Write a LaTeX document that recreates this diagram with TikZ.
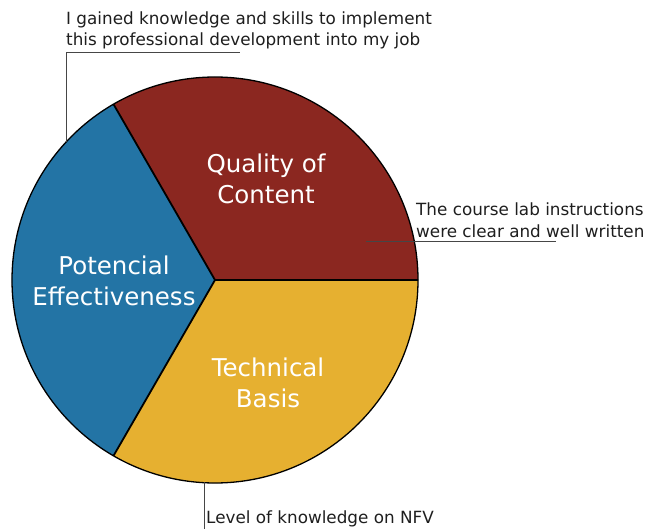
\documentclass[tikz,border=0pt]{standalone}
\usepackage{fontspec}
\setmainfont{DejaVu Sans}
\definecolor{cred}{RGB}{139,39,32}
\definecolor{cblue}{RGB}{35,116,165}
\definecolor{cyellow}{RGB}{230,176,48}
\definecolor{ctext}{RGB}{30,30,30}
\definecolor{cline}{RGB}{70,70,70}
\begin{document}
\begin{tikzpicture}[x=1pt,y=-1pt,
  slicelabel/.style={text=white,font=\fontsize{24.5}{31}\selectfont,align=center,inner sep=0pt},
  calltext/.style={text=ctext,font=\fontsize{16.8}{21}\selectfont,align=left,inner sep=0pt,anchor=base west},
  callline/.style={draw=cline,line width=0.9pt},
  sliceedge/.style={draw=black,line width=1.8pt,line join=miter}]
\useasboundingbox (0,0) rectangle (658,529);
\coordinate (C) at (215,280);
\begin{scope}[shift={(215,280)},yscale=-1]
  \fill[cred] (0,0) -- (0:203) arc (0:120:203) -- cycle;
  \fill[cblue] (0,0) -- (120:203) arc (120:240:203) -- cycle;
  \fill[cyellow] (0,0) -- (240:203) arc (240:360:203) -- cycle;
  \draw[sliceedge] (0:203) -- (0,0) -- (120:203);
  \draw[sliceedge] (0,0) -- (240:203);
  \draw[black,line width=1.3pt] (0,0) circle (203);
\end{scope}
\node[slicelabel] (q) at (266,179) {Quality of\\Content};
\node[slicelabel] (p) at (114,281) {Potencial\\Effectiveness};
\node[slicelabel] (t) at (268,383) {Technical\\Basis};
% callout 1
\node[calltext] (l1) at (66,46) {I gained knowledge and skills to implement\\this professional development into my job};
\coordinate (a1) at (66,142);
\coordinate (b1) at (240,52);
\draw[callline] (a1) |- (b1);
% callout 2
\node[calltext] (l2) at (416,237) {The course lab instructions\\were clear and well written};
\coordinate (a2) at (366,241.5);
\coordinate (b2) at (556,241.5);
\draw[callline] (a2) -- (b2);
% callout 3
\node[calltext] (l3) at (206,523) {Level of knowledge on NFV};
\coordinate (a3) at (204,482);
\coordinate (b3) at (204,529);
\draw[callline] (a3) -- (b3);
\end{tikzpicture}
\end{document}
